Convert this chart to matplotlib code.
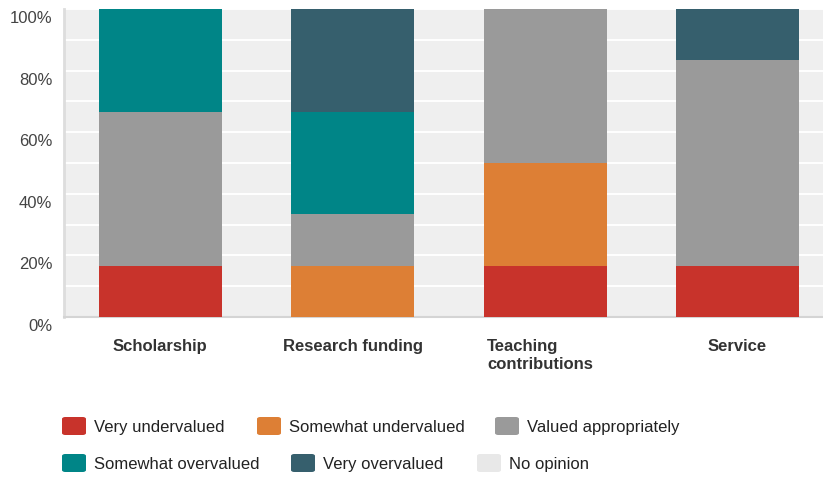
import matplotlib
matplotlib.use("Agg")
import matplotlib.pyplot as plt
import matplotlib.transforms as mtransforms
from matplotlib.patches import FancyBboxPatch
import numpy as np

plt.rcParams['font.family'] = ['Liberation Sans', 'DejaVu Sans']

categories = ["Scholarship", "Research funding", "Teaching\ncontributions", "Service"]
series = ["Very undervalued", "Somewhat undervalued", "Valued appropriately",
          "Somewhat overvalued", "Very overvalued", "No opinion"]
colors = ["#c8332b", "#dd7f35", "#9a9a9a", "#008587", "#365f6d", "#e8e8e8"]

# percent of responses per category (sixths)
very_under = [16.67, 0, 16.67, 16.67]
somewhat_under = [0, 16.67, 33.33, 0]
valued_ok = [50.0, 16.67, 50.0, 66.67]
somewhat_over = [33.33, 33.33, 0, 0]
very_over = [0, 33.33, 0, 16.67]
no_opinion = [0, 0, 0, 0]
values = [very_under, somewhat_under, valued_ok, somewhat_over, very_over, no_opinion]

W, H = 823, 480
fig = plt.figure(figsize=(W / 100, H / 100), dpi=100)
ax = fig.add_axes([64 / W, (H - 317) / H, (W - 64) / W, (317 - 9) / H])
ax.set_facecolor("#efefef")

x = np.arange(len(categories))
bottom = np.zeros(len(categories))
for name, vals, c in zip(series, values, colors):
    ax.bar(x, vals, width=0.64, bottom=bottom, color=c, label=name, zorder=3)
    bottom += np.array(vals)

ax.set_xlim(-0.5, 3.444)
ax.set_ylim(0, 100)
ax.set_axisbelow(True)
ax.set_yticks(np.arange(0, 101, 20))
ax.set_yticks(np.arange(0, 101, 10), minor=True)
ax.yaxis.grid(True, which="both", color="white", linewidth=1.4)
ax.set_yticklabels([f"{v}%" for v in range(0, 101, 20)])
ax.tick_params(axis="y", length=0, labelsize=12, labelcolor="#444444", pad=8.5)
ax.tick_params(axis="y", which="minor", length=0)
offset = mtransforms.ScaledTranslation(0, -8 / 100, fig.dpi_scale_trans)
for lab in ax.get_yticklabels():
    lab.set_transform(lab.get_transform() + offset)

ax.set_xticks(x)
ax.set_xticklabels(categories, fontsize=12, fontweight="bold", color="#333333",
                   va="top", multialignment="left", linespacing=1.25)
ax.tick_params(axis="x", length=0, pad=16)
# the two-line label sits a little left of centre
xl = ax.get_xticklabels()[2]
xl.set_transform(xl.get_transform() + mtransforms.ScaledTranslation(-5 / 100, 0, fig.dpi_scale_trans))

for s in ["top", "right"]:
    ax.spines[s].set_visible(False)
ax.spines["left"].set_color("#dddddd")
ax.spines["left"].set_linewidth(2)
ax.spines["bottom"].set_color("#d4d4d4")
ax.spines["bottom"].set_linewidth(1.5)

# legend laid out by hand, two rows
legend_pos = [(62, 426), (257, 426), (495, 426), (62, 463), (291, 463), (477, 463)]
for (px, py), name, c in zip(legend_pos, series, colors):
    fig.patches.append(FancyBboxPatch(
        (px / W, (H - py - 9) / H), 24 / W, 18 / H,
        boxstyle="round,pad=0,rounding_size=0.004", transform=fig.transFigure,
        facecolor=c, edgecolor="none"))
    fig.text((px + 32) / W, (H - py) / H, name, fontsize=12, color="#222222",
             va="center_baseline", ha="left")

fig.savefig("out.png", dpi=100)
